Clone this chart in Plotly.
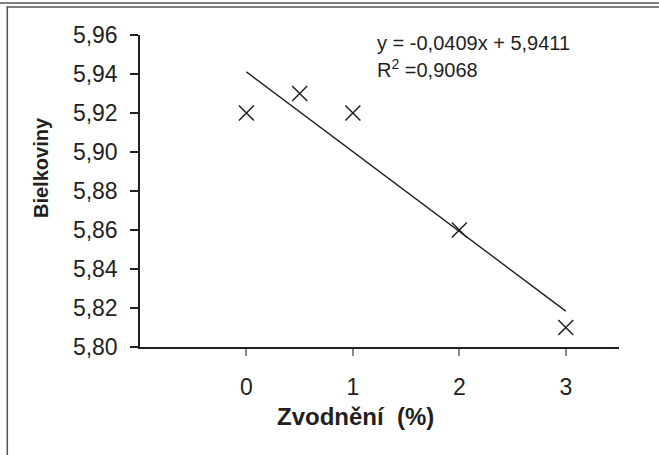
import plotly.graph_objects as go

# data
x_vals = [0, 0.5, 1, 2, 3]
y_vals = [5.92, 5.93, 5.92, 5.86, 5.81]
trend_x = [0, 3]
slope = -0.0409
intercept = 5.9411
y_ticks = [5.80, 5.82, 5.84, 5.86, 5.88, 5.90, 5.92, 5.94, 5.96]
x_ticks = [0, 1, 2, 3]

W, H = 659, 455
L, R, T, B = 140, 40, 35, 108
pw, ph = W - L - R, H - T - B


def px(x):
    return (x - L) / pw


def py(y):
    return (H - B - y) / ph


trend_y = [intercept + slope * v for v in trend_x]
FONT = "Liberation Sans, Arial, sans-serif"
INK = "#231f20"

fig = go.Figure()
fig.add_trace(go.Scatter(
    x=trend_x, y=trend_y, mode="lines",
    line=dict(color=INK, width=1.4), hoverinfo="skip"))
fig.add_trace(go.Scatter(
    x=x_vals, y=y_vals, mode="markers",
    marker=dict(symbol="x-thin", size=15, line=dict(color=INK, width=1.5))))

fig.update_layout(
    width=W, height=H,
    margin=dict(l=L, r=R, t=T, b=B),
    paper_bgcolor="white", plot_bgcolor="white",
    showlegend=False,
    font=dict(family=FONT, color=INK),
    xaxis=dict(
        range=[-1, 3.5], tickvals=x_ticks, ticktext=[str(v) for v in x_ticks],
        showgrid=False, zeroline=False, showline=True, linecolor=INK, linewidth=1.5,
        ticks="outside", ticklen=7, tickcolor="#888", tickwidth=1.5,
        tickfont=dict(size=23), ticklabelstandoff=12),
    yaxis=dict(
        range=[5.80, 5.96], tickvals=y_ticks,
        ticktext=[f"{v:.2f}".replace(".", ",") for v in y_ticks],
        showgrid=False, zeroline=False, showline=True, linecolor=INK, linewidth=1.5,
        ticks="outside", ticklen=8, tickcolor=INK, tickwidth=1.5,
        tickfont=dict(size=23), ticklabelstandoff=8),
    annotations=[
        dict(text="y = -0,0409x + 5,9411",
             xref="paper", yref="paper", x=px(376), y=py(55),
             xanchor="left", yanchor="bottom", align="left", showarrow=False,
             borderpad=0, font=dict(size=20)),
        dict(text="R<sup>2</sup> =0,9068",
             xref="paper", yref="paper", x=px(376), y=py(55),
             xanchor="left", yanchor="top", align="left", showarrow=False,
             borderpad=0, font=dict(size=20)),
        dict(text="<b>Zvodnění  (%)</b>", xref="paper", yref="paper",
             x=px(355), y=py(416), xanchor="center", yanchor="middle",
             showarrow=False, font=dict(size=24)),
        dict(text="<b>Bielkoviny</b>", xref="paper", yref="paper",
             x=px(41), y=py(168), xanchor="center", yanchor="middle",
             textangle=-90, showarrow=False, font=dict(size=20)),
    ],
    shapes=[
        dict(type="line", xref="paper", yref="paper", layer="above",
             x0=px(0), x1=px(W), y0=py(3), y1=py(3),
             line=dict(color="#555", width=1.5)),
        dict(type="line", xref="paper", yref="paper", layer="above",
             x0=px(6.5), x1=px(W), y0=py(7), y1=py(7),
             line=dict(color="#555", width=1.5)),
        dict(type="line", xref="paper", yref="paper", layer="above",
             x0=px(7.3), x1=px(7.3), y0=py(6.5), y1=py(H),
             line=dict(color="#555", width=1.5)),
    ],
)

fig.write_html("out.html", config={"displayModeBar": False},
               post_script="document.body.style.margin='0';")
